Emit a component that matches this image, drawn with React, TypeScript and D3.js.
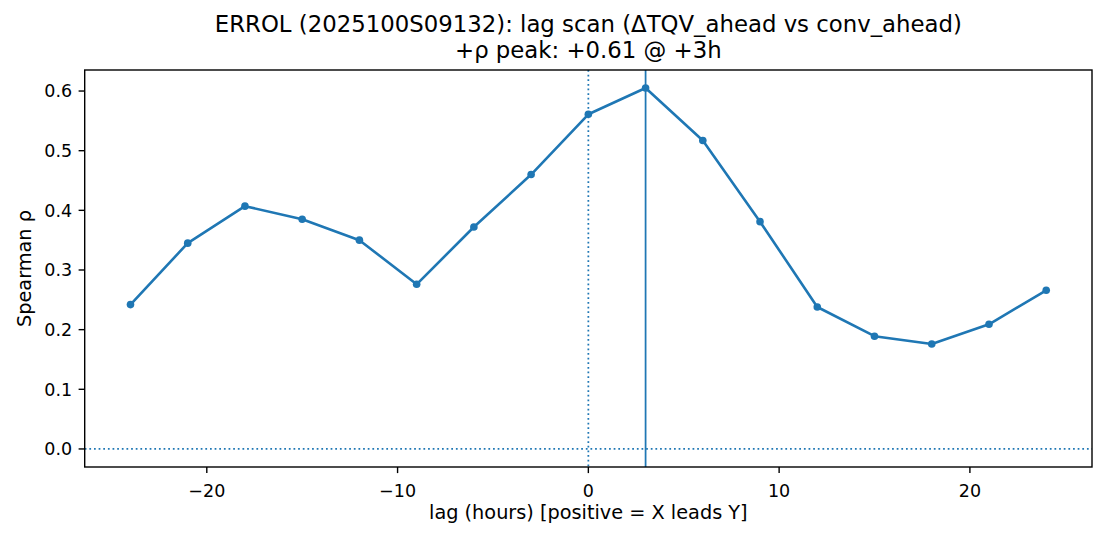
import React from "react";
import * as d3 from "d3";

const lags = [-24, -21, -18, -15, -12, -9, -6, -3, 0, 3, 6, 9, 12, 15, 18, 21, 24];
const rho = [0.242, 0.345, 0.407, 0.385, 0.35, 0.276, 0.372, 0.46, 0.561, 0.605, 0.517, 0.381, 0.238, 0.189, 0.176, 0.209, 0.266];
const xTicks = [-20, -10, 0, 10, 20];
const yTicks = [0.0, 0.1, 0.2, 0.3, 0.4, 0.5, 0.6];
const peakLag = 3;
const titleLines = ["ERROL (2025100S09132): lag scan (ΔTQV_ahead vs conv_ahead)", "+ρ peak: +0.61 @ +3h"];
const xLabel = "lag (hours) [positive = X leads Y]";
const yLabel = "Spearman ρ";

const W = 1105, H = 540;
const L = 84.7, R = 1092, T = 70, B = 467;
const C = "#1f77b4";
const FONT = "DejaVu Sans, sans-serif";
const TICK = 6.1;

export default function App() {
  const x = d3.scaleLinear().domain([-26.4, 26.4]).range([L, R]);
  const y = d3.scaleLinear().domain([-0.03025, 0.63525]).range([B, T]);
  const line = d3.line<number>().x((_, i) => x(lags[i])).y((d) => y(d));
  const fmtMinus = (v: number) => (v < 0 ? "\u2212" + Math.abs(v) : String(v));
  return (
    <div style={{ position: "absolute", left: 0, top: 0 }}>
      <svg width={W} height={H} style={{ display: "block", background: "#fff" }} fontFamily={FONT}>
        <rect x={0} y={0} width={W} height={H} fill="#fff" />
        <defs>
          <clipPath id="clip">
            <rect x={L} y={T} width={R - L} height={B - T} />
          </clipPath>
        </defs>
        <g clipPath="url(#clip)">
          <line x1={L} x2={R} y1={y(0)} y2={y(0)} stroke={C} strokeWidth={1.75} strokeDasharray="1.75 2.89" />
          <line x1={x(0)} x2={x(0)} y1={T} y2={B} stroke={C} strokeWidth={1.75} strokeDasharray="1.75 2.89" />
          <line x1={x(peakLag)} x2={x(peakLag)} y1={T} y2={B} stroke={C} strokeWidth={1.75} />
          <path d={line(rho) || ""} fill="none" stroke={C} strokeWidth={2.6} strokeLinejoin="round" strokeLinecap="round" />
          {rho.map((v, i) => (
            <circle key={i} cx={x(lags[i])} cy={y(v)} r={3.8} fill={C} />
          ))}
        </g>
        <rect x={L} y={T} width={R - L} height={B - T} fill="none" stroke="#000" strokeWidth={1.4} />
        {xTicks.map((t) => (
          <g key={t}>
            <line x1={x(t)} x2={x(t)} y1={B} y2={B + TICK} stroke="#000" strokeWidth={1.4} />
            <text x={x(t)} y={496.5} textAnchor="middle" fontSize={17.5} fill="#000">
              {fmtMinus(t)}
            </text>
          </g>
        ))}
        {yTicks.map((t) => (
          <g key={t}>
            <line x1={L - TICK} x2={L} y1={y(t)} y2={y(t)} stroke="#000" strokeWidth={1.4} />
            <text x={L - 12.5} y={y(t) + 6.4} textAnchor="end" fontSize={17.5} fill="#000">
              {t.toFixed(1)}
            </text>
          </g>
        ))}
        <text x={(L + R) / 2} y={518.5} textAnchor="middle" fontSize={19.3} fill="#000">
          {xLabel}
        </text>
        <text transform={`translate(30.5,${(T + B) / 2}) rotate(-90)`} textAnchor="middle" fontSize={19.3} fill="#000">
          {yLabel}
        </text>
        {titleLines.map((s, i) => (
          <text key={i} x={(L + R) / 2} y={31.7 + i * 26.3} textAnchor="middle" fontSize={22.8} fill="#000">
            {s}
          </text>
        ))}
      </svg>
    </div>
  );
}
